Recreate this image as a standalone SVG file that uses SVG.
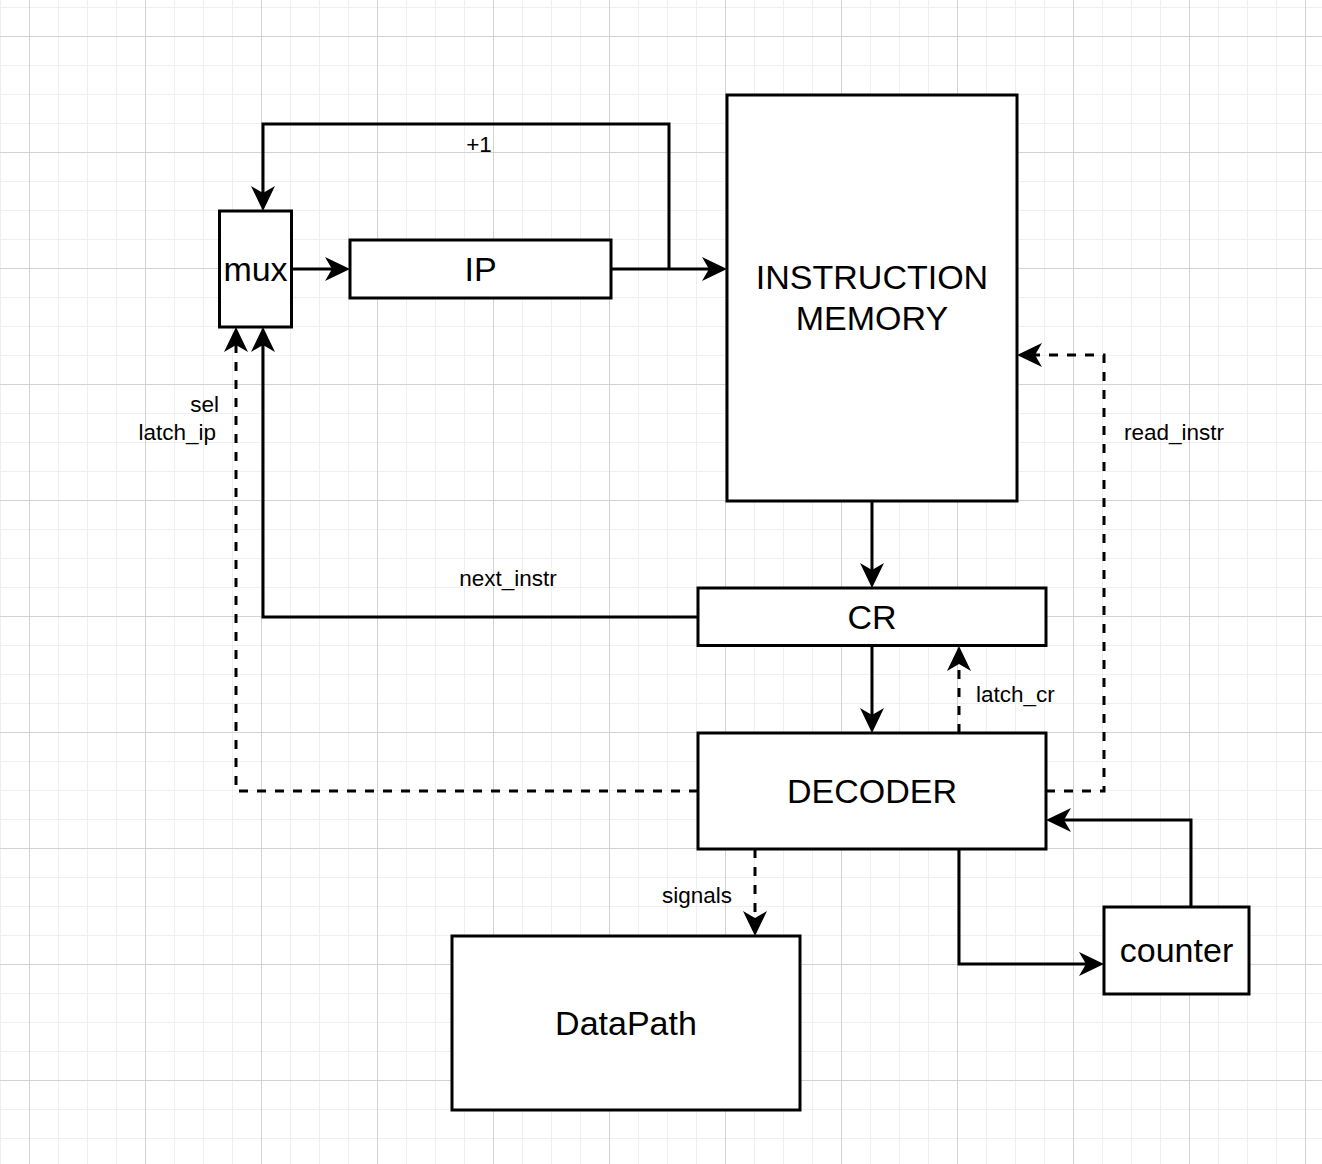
<svg xmlns="http://www.w3.org/2000/svg" width="1322" height="1164" viewBox="0 0 1322 1164">
<style>
.box{fill:#fff;stroke:#000;stroke-width:3}
.big{font-family:"Liberation Sans",Arial,Helvetica,sans-serif;font-size:34px;fill:#000;text-anchor:middle}
.lbl{font-family:"Liberation Sans",Arial,Helvetica,sans-serif;font-size:22.5px;fill:#000}
.ln{fill:none;stroke:#000;stroke-width:3;stroke-linejoin:miter}
.dash{stroke-dasharray:9 9}
</style>
<defs>
<pattern id="grid" x="29" y="36" width="116" height="116" patternUnits="userSpaceOnUse">
<rect width="116" height="116" fill="#fff"/>
<path d="M29.5 0V116M58.5 0V116M87.5 0V116M0 29.5H116M0 58.5H116M0 87.5H116" stroke="#efefef" stroke-width="1"/>
<path d="M0.5 0V116M0 0.5H116" stroke="#d2d2d2" stroke-width="1"/>
</pattern>
<marker id="arr" viewBox="0 0 25 24" refX="17" refY="12" markerWidth="25" markerHeight="24" markerUnits="userSpaceOnUse" orient="auto">
<path d="M0,0 L25,12 L0,24 L7,12 Z" fill="#000"/>
</marker>
</defs>
<rect width="1322" height="1164" fill="url(#grid)"/>

<g id="connectors">
<path class="ln" d="M292,269 H342" marker-end="url(#arr)"/>
<path class="ln" d="M611,269 H719" marker-end="url(#arr)"/>
<path class="ln" d="M669,269 V124 H263 V203" marker-end="url(#arr)"/>
<path class="ln" d="M872,501 V580" marker-end="url(#arr)"/>
<path class="ln" d="M698,617 H263 V335" marker-end="url(#arr)"/>
<path class="ln" d="M872,645 V725" marker-end="url(#arr)"/>
<path class="ln dash" d="M959,733 V654" marker-end="url(#arr)"/>
<path class="ln dash" d="M698,791 H236 V335" marker-end="url(#arr)"/>
<path class="ln dash" d="M1046,791 H1104 V355 H1025" marker-end="url(#arr)"/>
<path class="ln dash" d="M755,849 V928" marker-end="url(#arr)"/>
<path class="ln" d="M959,849 V964 H1096" marker-end="url(#arr)"/>
<path class="ln" d="M1191,907 V820 H1054" marker-end="url(#arr)"/>
<text class="lbl" x="479" y="152" text-anchor="middle">+1</text>
<text class="lbl" x="508" y="586" text-anchor="middle">next_instr</text>
<text class="lbl" x="976" y="702">latch_cr</text>
<text class="lbl" x="1124" y="440">read_instr</text>
<text class="lbl" x="219" y="412" text-anchor="end">sel</text>
<text class="lbl" x="216" y="440" text-anchor="end">latch_ip</text>
<text class="lbl" x="697" y="903" text-anchor="middle">signals</text>
</g>

<g id="mux">
<rect class="box" x="219.5" y="211" width="72" height="116"/>
<text class="big" x="255.5" y="281">mux</text>
</g>
<g id="ip">
<rect class="box" x="350" y="240" width="261" height="58"/>
<text class="big" x="480.5" y="281">IP</text>
</g>
<g id="instruction-memory">
<rect class="box" x="727" y="95" width="290" height="406"/>
<text class="big" x="872" y="289">INSTRUCTION</text>
<text class="big" x="872" y="330">MEMORY</text>
</g>
<g id="cr">
<rect class="box" x="698" y="588" width="348" height="57.5"/>
<text class="big" x="872" y="629">CR</text>
</g>
<g id="decoder">
<rect class="box" x="698" y="733" width="348" height="116"/>
<text class="big" x="872" y="803">DECODER</text>
</g>
<g id="datapath">
<rect class="box" x="452" y="936" width="348" height="174"/>
<text class="big" x="626" y="1035">DataPath</text>
</g>
<g id="counter">
<rect class="box" x="1104" y="907" width="145" height="87"/>
<text class="big" x="1176.5" y="962">counter</text>
</g>
</svg>
